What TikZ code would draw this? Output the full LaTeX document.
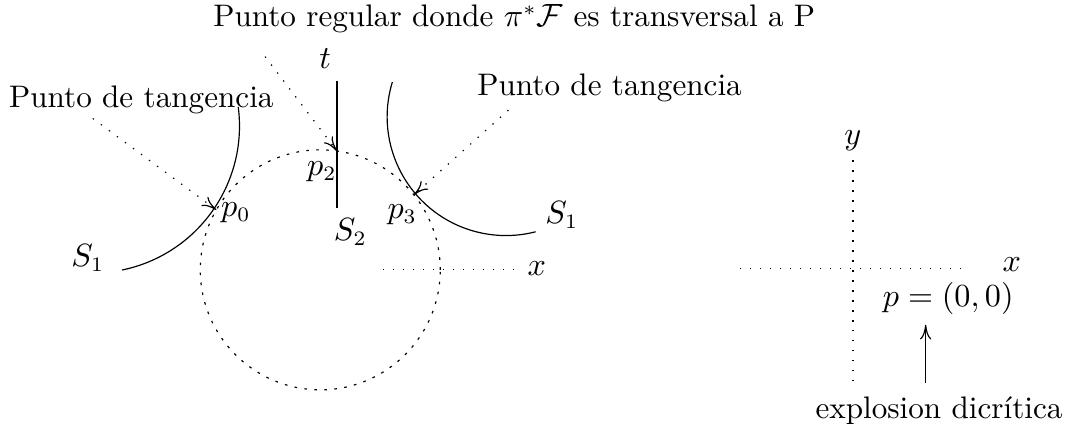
\documentclass[tikz,border=0pt]{standalone}
\usepackage{amsmath,amssymb}
\usepackage{tikz}
\usetikzlibrary{calc, positioning, arrows.meta}

\begin{document}
\begin{tikzpicture}[
  font=\fontsize{10.6}{12.7}\selectfont,
  >={To[length=5pt, width=3.8pt]},
  axisline/.style={dash pattern=on 0.45pt off 2.95pt},
  pointer/.style={dash pattern=on 0.45pt off 2.95pt, ->},
  divisor/.style={dash pattern=on 0.9pt off 2.5pt},
]
\useasboundingbox (0,0) rectangle (12.88,5.167);

% --- Blown-up plane: divisor, curves and points ---------------------
\coordinate (c)   at (3.83,1.94);
\coordinate (s1l) at (1.106,3.66);
\coordinate (s1r) at (6.05,3.77);
\draw[divisor] (c) circle (1.435);

\coordinate (p0) at ($(c)+(150:1.435)$);
\coordinate (p2) at (4.03,3.361);
\coordinate (p3) at ($(c)+(38.7:1.435)$);

\draw ($(s1l)+(7.5:1.758)$) arc[start angle=7.5, end angle=-78.4, radius=1.758];
\draw ($(s1r)+(163:1.42)$) arc[start angle=163, end angle=284.5, radius=1.42];
\draw (4.03,4.20) -- (4.03,2.68);

\node (s1a) at (1.05,2.08) {$S_1$};
\node (lp0) at (2.82,2.62) {$p_0$};
\node (tt)  at (3.89,4.47) {$t$};
\node (lp2) at (3.85,3.11) {$p_2$};
\node (s2)  at (4.19,2.39) {$S_2$};
\node (lp3) at (4.81,2.60) {$p_3$};
\node (s1b) at (6.72,2.60) {$S_1$};

\draw[axisline] (4.58,1.94) -- (6.16,1.94);
\node (xa) at (6.42,1.96) {$x$};

% Labels with pointers
\node[anchor=base] (tanl) at (1.69,3.887) {Punto de tangencia};
\node[anchor=base] (tanr) at (7.29,4.03) {Punto de tangencia};
\node[anchor=base] (reg)  at (6.15,4.845) {Punto regular donde $\pi^{*}\mathcal{F}$ es transversal a P};

\coordinate (ql) at (1.11,3.75);
\coordinate (qr) at (6.08,3.85);
\coordinate (q2) at (3.17,4.49);
\draw[pointer] (ql) -- (p0);
\draw[pointer] (qr) -- (p3);
\draw[pointer] (q2) -- (p2);

% --- Original plane ----------------------------------------------------
\draw[axisline] (8.85,1.96) -- (11.48,1.96);
\draw[axisline] (10.20,3.25) -- (10.20,0.62);
\node (ya)   at (10.20,3.49) {$y$};
\node (xb)   at (12.10,2.00) {$x$};
\node (orig) at (11.34,1.60) {$p=(0,0)$};
\node (expl) at (11.23,0.26) {explosion dicr\'itica};

\coordinate (arr) at (11.07,0);
\draw[->] ([yshift=1pt]expl.north -| arr) -- (orig.south -| arr);
\end{tikzpicture}
\end{document}
